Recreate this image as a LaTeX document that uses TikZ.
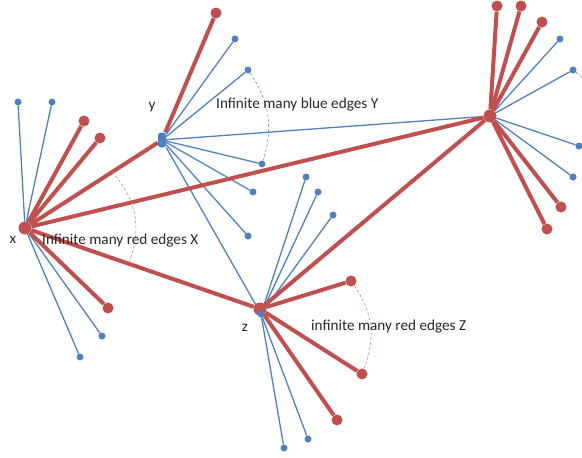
\documentclass[tikz,border=0pt]{standalone}
\usepackage{fontspec}
\setmainfont{Carlito}
\usetikzlibrary{calc,backgrounds}

\definecolor{edgered}{RGB}{192,80,77}
\definecolor{edgeblue}{RGB}{79,129,189}

\tikzset{
  hubred/.style={circle,fill=edgered,inner sep=0pt,minimum size=13pt},
  hubblue/.style={rounded corners=3pt,fill=edgeblue,inner sep=0pt,minimum width=8pt,minimum height=15pt},
  leafred/.style={circle,fill=edgered,inner sep=0pt,minimum size=11pt},
  leafblue/.style={circle,fill=edgeblue,inner sep=0pt,minimum size=7pt},
  rededge/.style={draw=edgered,line width=4pt},
  blueedge/.style={draw=edgeblue,line width=1.3pt},
  sweep/.style={densely dashed,line width=0.5pt},
  tag/.style={font=\fontsize{15.2}{18}\selectfont,text=black!85,inner sep=0pt}
}

\begin{document}
\begin{tikzpicture}[x=1pt,y=-1pt]
    \clip (0,0) rectangle (582,458);

    % hubs
    \node[hubred] (x) at (25,228) {};
    \node[hubblue] (y) at (162,140) {};
    \node[hubred] (w) at (490,116) {};
    \node[hubred] (z) at (260,309) {};
    \node[leafblue] (zb) at (261,314) {};

    % leaves of x
    \node[leafblue] (x1) at (18,102) {};
    \node[leafblue] (x2) at (52,102) {};
    \node[leafred] (x3) at (84,121) {};
    \node[leafred] (x4) at (100,138) {};
    \node[leafred] (x5) at (108,308) {};
    \node[leafblue] (x6) at (102,336) {};
    \node[leafblue] (x7) at (80,357) {};

    % leaves of y
    \node[leafred] (y1) at (216,13) {};
    \node[leafblue] (y2) at (235,39) {};
    \node[leafblue] (y3) at (248,70) {};
    \node[leafblue] (y4) at (262,164) {};
    \node[leafblue] (y5) at (253,192) {};
    \node[leafblue] (y6) at (248,236) {};

    % leaves of w
    \node[leafred] (w1) at (497,6) {};
    \node[leafred] (w2) at (521,6) {};
    \node[leafred] (w3) at (542,22) {};
    \node[leafblue] (w4) at (560,39) {};
    \node[leafblue] (w5) at (573,70) {};
    \node[leafblue] (w6) at (579,146) {};
    \node[leafblue] (w7) at (573,177) {};
    \node[leafred] (w8) at (561,207) {};
    \node[leafred] (w9) at (547,229) {};

    % leaves of z
    \node[leafblue] (z1) at (306,177) {};
    \node[leafblue] (z2) at (318,192) {};
    \node[leafblue] (z3) at (333,215) {};
    \node[leafred] (z4) at (351,281) {};
    \node[leafred] (z5) at (362,374) {};
    \node[leafred] (z6) at (337,420) {};
    \node[leafblue] (z7) at (308,439) {};
    \node[leafblue] (z8) at (284,448) {};

    \begin{pgfonlayer}{background}
    % blue edges
    \draw[blueedge] (x) -- (x1);
    \draw[blueedge] (x) -- (x2);
    \draw[blueedge] (x) -- (x6);
    \draw[blueedge] (x) -- (x7);
    \draw[blueedge] (y) -- (y2);
    \draw[blueedge] (y) -- (y3);
    \draw[blueedge] (y) -- (y4);
    \draw[blueedge] (y) -- (y5);
    \draw[blueedge] (y) -- (y6);
    \draw[blueedge] (y) -- (w);
    \draw[blueedge] (y) -- (zb);
    \draw[blueedge] (w) -- (w4);
    \draw[blueedge] (w) -- (w5);
    \draw[blueedge] (w) -- (w6);
    \draw[blueedge] (w) -- (w7);
    \draw[blueedge] (zb) -- (z1);
    \draw[blueedge] (zb) -- (z2);
    \draw[blueedge] (zb) -- (z3);
    \draw[blueedge] (zb) -- (z7);
    \draw[blueedge] (zb) -- (z8);

    % red edges
    \draw[rededge] (x) -- (x3);
    \draw[rededge] (x) -- (x4);
    \draw[rededge] (x) -- (x5);
    \draw[rededge] (x) -- (y);
    \draw[rededge] (x) -- (w);
    \draw[rededge] (x) -- (z);
    \draw[rededge] (y) -- (y1);
    \draw[rededge] (w) -- (w1);
    \draw[rededge] (w) -- (w2);
    \draw[rededge] (w) -- (w3);
    \draw[rededge] (w) -- (w8);
    \draw[rededge] (w) -- (w9);
    \draw[rededge] (z) -- (w);
    \draw[rededge] (z) -- (z4);
    \draw[rededge] (z) -- (z5);
    \draw[rededge] (z) -- (z6);
    \end{pgfonlayer}

    % dashed sweeps
    \draw[sweep,edgered!80] ($(x)!0.635!(y)$) to[bend left=33] ($(x)!0.44!(z)$);
    \draw[sweep,edgeblue!80!gray] (y3) to[bend left=26] (y4);
    \draw[sweep,gray] (w5) to[bend left=50] (w6);
    \draw[sweep,edgered!80] (z4) to[bend left=28] (z5);

    % labels
    \node[tag] (xlab) at (13,240) {x};
    \node[tag] (ylab) at (152,107) {y};
    \node[tag] (zlab) at (245,328) {z};
    \node[tag,anchor=west] (xtext) at (42,241) {Infinite many red edges X};
    \node[tag,anchor=west] (ytext) at (216,105) {Infinite many blue edges Y};
    \node[tag,anchor=west] (ztext) at (311,327) {infinite many red edges Z};
\end{tikzpicture}
\end{document}
